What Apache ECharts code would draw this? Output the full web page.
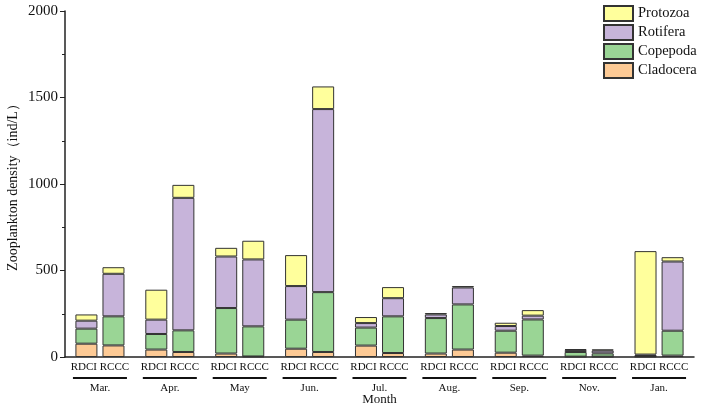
<!DOCTYPE html>
<html>
<head>
<meta charset="utf-8">
<script src="https://cdn.jsdelivr.net/npm/echarts@6/dist/echarts.min.js"></script>
<style>
  html, body { margin: 0; padding: 0; background: #fff; }
  #chart { width: 703px; height: 408px; }
</style>
</head>
<body>
<div id="chart"></div>
<script>
// months on x axis
var months = ['Mar.', 'Apr.', 'May', 'Jun.', 'Jul.', 'Aug.', 'Sep.', 'Nov.', 'Jan.'];
var yTicks = [0, 500, 1000, 1500, 2000];

// RDCI site
var rdciClad = [77, 43, 20, 48, 66, 20, 25, 2, 3];
var rdciCope = [87, 90, 263, 168, 104, 205, 127, 27, 3];
var rdciRoti = [46, 83, 298, 194, 26, 21, 27, 11, 8];
var rdciProto = [36, 173, 50, 179, 35, 8, 19, 6, 598];

// RCCC site
var rcccClad = [67, 29, 3, 29, 23, 43, 8, 2, 8];
var rcccCope = [168, 125, 174, 346, 212, 261, 209, 19, 144];
var rcccRoti = [246, 766, 387, 1058, 105, 98, 22, 16, 400];
var rcccProto = [38, 75, 108, 131, 64, 8, 32, 7, 25];

var colors = {
  Cladocera: '#FDCA95',
  Copepoda: '#9AD595',
  Rotifera: '#C7B4DA',
  Protozoa: '#FFFF9C'
};
var font = "'Liberation Serif', 'Times New Roman', serif";

function bar(name, stack, data) {
  return {
    name: name,
    type: 'bar',
    stack: stack,
    barWidth: 22,
    barGap: '23%',
    data: data,
    itemStyle: { color: colors[name], borderColor: '#333', borderWidth: 1 }
  };
}

var option = {
  animation: false,
  textStyle: { fontFamily: font },
  grid: { left: 65, right: 9, top: 11, bottom: 51, outerBoundsMode: 'none' },
  legend: {
    data: ['Protozoa', 'Rotifera', 'Copepoda', 'Cladocera'],
    orient: 'vertical',
    left: 598,
    top: 0,
    icon: 'rect',
    itemWidth: 29,
    itemHeight: 15,
    itemGap: 2,
    textStyle: { fontFamily: font, fontSize: 14.5, color: '#111' }
  },
  xAxis: {
    type: 'category',
    data: months,
    name: 'Month',
    nameLocation: 'middle',
    nameGap: 36,
    nameMoveOverlap: false,
    nameTextStyle: { fontFamily: font, fontSize: 13, color: '#111' },
    axisLine: { lineStyle: { color: '#222', width: 1.5 } },
    axisTick: { show: false },
    axisLabel: {
      interval: 0,
      margin: 4,
      formatter: function (v) {
        return '{a|RDCI RCCC}\n{l| }\n{m|' + v + '}';
      },
      rich: {
        a: { fontFamily: font, fontSize: 11, color: '#111', lineHeight: 13 },
        l: { width: 54, height: 2, backgroundColor: '#111', lineHeight: 8 },
        m: { fontFamily: font, fontSize: 11, color: '#111', lineHeight: 13 }
      }
    }
  },
  yAxis: {
    type: 'value',
    min: yTicks[0],
    max: yTicks[yTicks.length - 1],
    interval: 500,
    name: 'Zooplankton density（ind/L）',
    nameLocation: 'middle',
    nameGap: 45,
    nameMoveOverlap: false,
    nameTextStyle: { fontFamily: font, fontSize: 14, color: '#111' },
    splitLine: { show: false },
    axisLine: { show: true, lineStyle: { color: '#222', width: 1.5 } },
    axisTick: { show: true, length: 5, lineStyle: { color: '#222' } },
    minorTick: { show: true, splitNumber: 2, length: 3, lineStyle: { color: '#222' } },
    axisLabel: {
      fontFamily: font, fontSize: 15, color: '#111', margin: 7,
      formatter: function (v) { return String(v); }
    }
  },
  series: [
    bar('Cladocera', 'RDCI', rdciClad),
    bar('Copepoda', 'RDCI', rdciCope),
    bar('Rotifera', 'RDCI', rdciRoti),
    bar('Protozoa', 'RDCI', rdciProto),
    bar('Cladocera', 'RCCC', rcccClad),
    bar('Copepoda', 'RCCC', rcccCope),
    bar('Rotifera', 'RCCC', rcccRoti),
    bar('Protozoa', 'RCCC', rcccProto)
  ]
};

var myChart = echarts.init(document.getElementById('chart'));
myChart.setOption(option);
</script>
</body>
</html>
